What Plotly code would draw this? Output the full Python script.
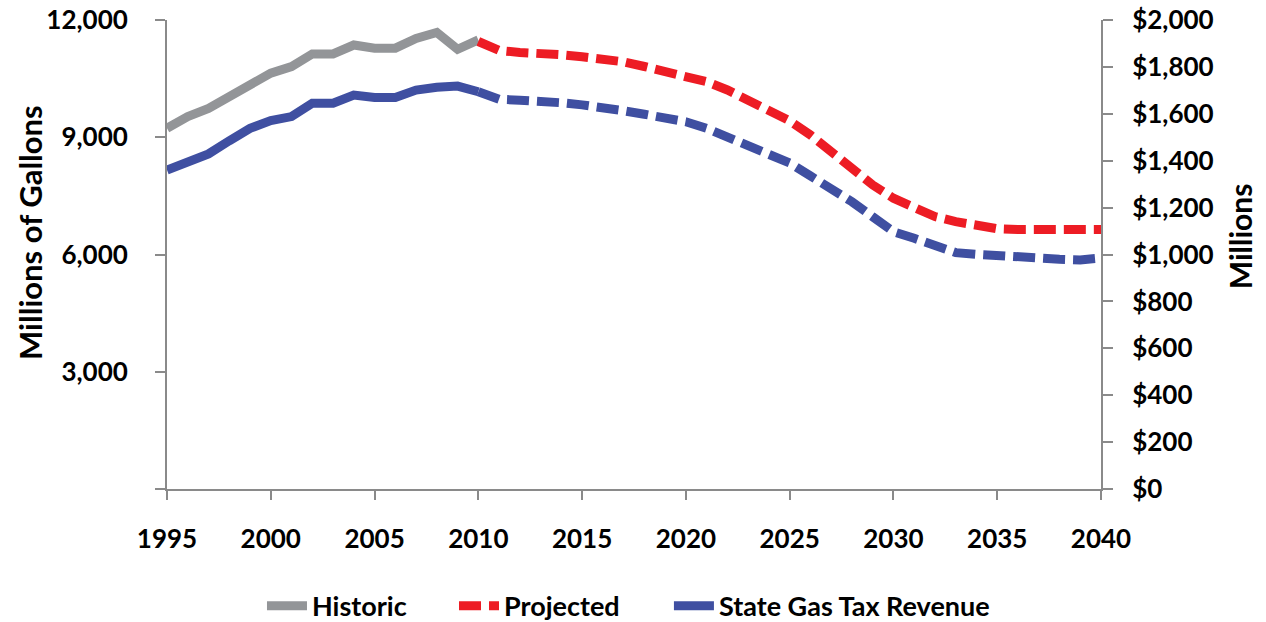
import plotly.graph_objects as go

hist_years = list(range(1995, 2011))
hist_gallons = [9230, 9530, 9740, 10060, 10380, 10640, 10810, 11130, 11130, 11360,
                11280, 11280, 11530, 11680, 11250, 11490]

proj_years = list(range(2010, 2041))
proj_gallons = [11450, 11220, 11170, 11160, 11110, 11060, 11020, 10930, 10810, 10680,
                10550, 10420, 10210, 9950, 9700, 9420, 9060, 8630, 8210, 7780,
                7440, 7180, 6970, 6840, 6740, 6660, 6640, 6640, 6640, 6640, 6640]

rev_hist = [1360, 1396, 1429, 1485, 1538, 1571, 1588, 1645, 1645, 1680,
            1670, 1670, 1701, 1713, 1718, 1694]
rev_proj = [1694, 1662, 1658, 1655, 1647, 1638, 1628, 1613, 1598, 1585,
            1566, 1538, 1500, 1463, 1424, 1390, 1335, 1282, 1225, 1161,
            1097, 1069, 1040, 1008, 1001, 994, 991, 987, 980, 977, 985]

x_ticks = list(range(1995, 2041, 5))
left_ticks = [0, 3000, 6000, 9000, 12000]
left_labels = ["", "3,000", "6,000", "9,000", "12,000"]
right_ticks = list(range(0, 2001, 200))
right_labels = ["$" + format(v, ",") for v in right_ticks]

GRAY = "#939598"
RED = "#ED1C24"
BLUE = "#3F4FA1"
AX = "#8a8a8a"
FONT = "Lato"

fig = go.Figure()
fig.add_trace(go.Scatter(x=hist_years, y=hist_gallons, mode="lines", name="Historic",
                         line=dict(color=GRAY, width=9), yaxis="y", legend="legend"))
fig.add_trace(go.Scatter(x=proj_years, y=proj_gallons, mode="lines", name="Projected",
                         line=dict(color=RED, width=9, dash="22px,8px"), yaxis="y",
                         legend="legend2"))
fig.add_trace(go.Scatter(x=hist_years, y=rev_hist, mode="lines", name="State Gas Tax Revenue",
                         line=dict(color=BLUE, width=9), yaxis="y2", legend="legend3"))
fig.add_trace(go.Scatter(x=proj_years, y=rev_proj, mode="lines", name="State Gas Tax Revenue",
                         line=dict(color=BLUE, width=9, dash="22px,8px"), yaxis="y2",
                         showlegend=False))

tickfont = dict(family=FONT, size=26, color="black", weight="bold")
legfont = dict(family=FONT, size=27, color="black", weight="bold")


def leg(x):
    return dict(orientation="h", x=x, xanchor="left", y=-0.25, yanchor="middle",
                font=legfont, itemwidth=40, bgcolor="rgba(0,0,0,0)")


fig.update_layout(
    width=1266, height=622,
    margin=dict(l=167, r=165, t=20, b=133, autoexpand=False),
    plot_bgcolor="white", paper_bgcolor="white",
    font=dict(family=FONT, color="black"),
    showlegend=True,
    legend=leg(0.1017),
    legend2=leg(0.3073),
    legend3=leg(0.5374),
    xaxis=dict(range=[1995, 2040], tickvals=x_ticks, showgrid=False, zeroline=False,
               automargin=False,
               showline=True, linecolor=AX, linewidth=2, ticks="outside", ticklen=9,
               tickcolor=AX, tickwidth=2, tickfont=tickfont, ticklabelstandoff=17),
    yaxis=dict(range=[0, 12000], tickvals=left_ticks, ticktext=left_labels, showgrid=False,
               automargin=False, ticklabeloverflow="allow",
               zeroline=False, showline=True, linecolor=AX, linewidth=2, ticks="outside",
               ticklen=10, tickcolor=AX, tickwidth=2, tickfont=tickfont, ticklabelstandoff=22),
    yaxis2=dict(range=[0, 2000], tickvals=right_ticks, ticktext=right_labels, overlaying="y",
                automargin=False, ticklabeloverflow="allow",
                side="right", showgrid=False, zeroline=False, showline=True, linecolor=AX,
                linewidth=2, ticks="outside", ticklen=10, tickcolor=AX, tickwidth=2,
                tickfont=tickfont, ticklabelstandoff=14),
    annotations=[
        dict(text="Millions of Gallons", xref="paper", yref="paper", x=-0.1467, y=0.548,
             xanchor="center", yanchor="middle", textangle=-90, showarrow=False,
             font=dict(family=FONT, size=31, color="black", weight="bold")),
        dict(text="Millions", xref="paper", yref="paper", x=1.1488, y=0.539,
             xanchor="center", yanchor="middle", textangle=-90, showarrow=False,
             font=dict(family=FONT, size=30, color="black", weight="bold")),
    ],
)

fig.write_html("out.html", config={"displayModeBar": False},
               post_script="document.body.style.margin='0';")
